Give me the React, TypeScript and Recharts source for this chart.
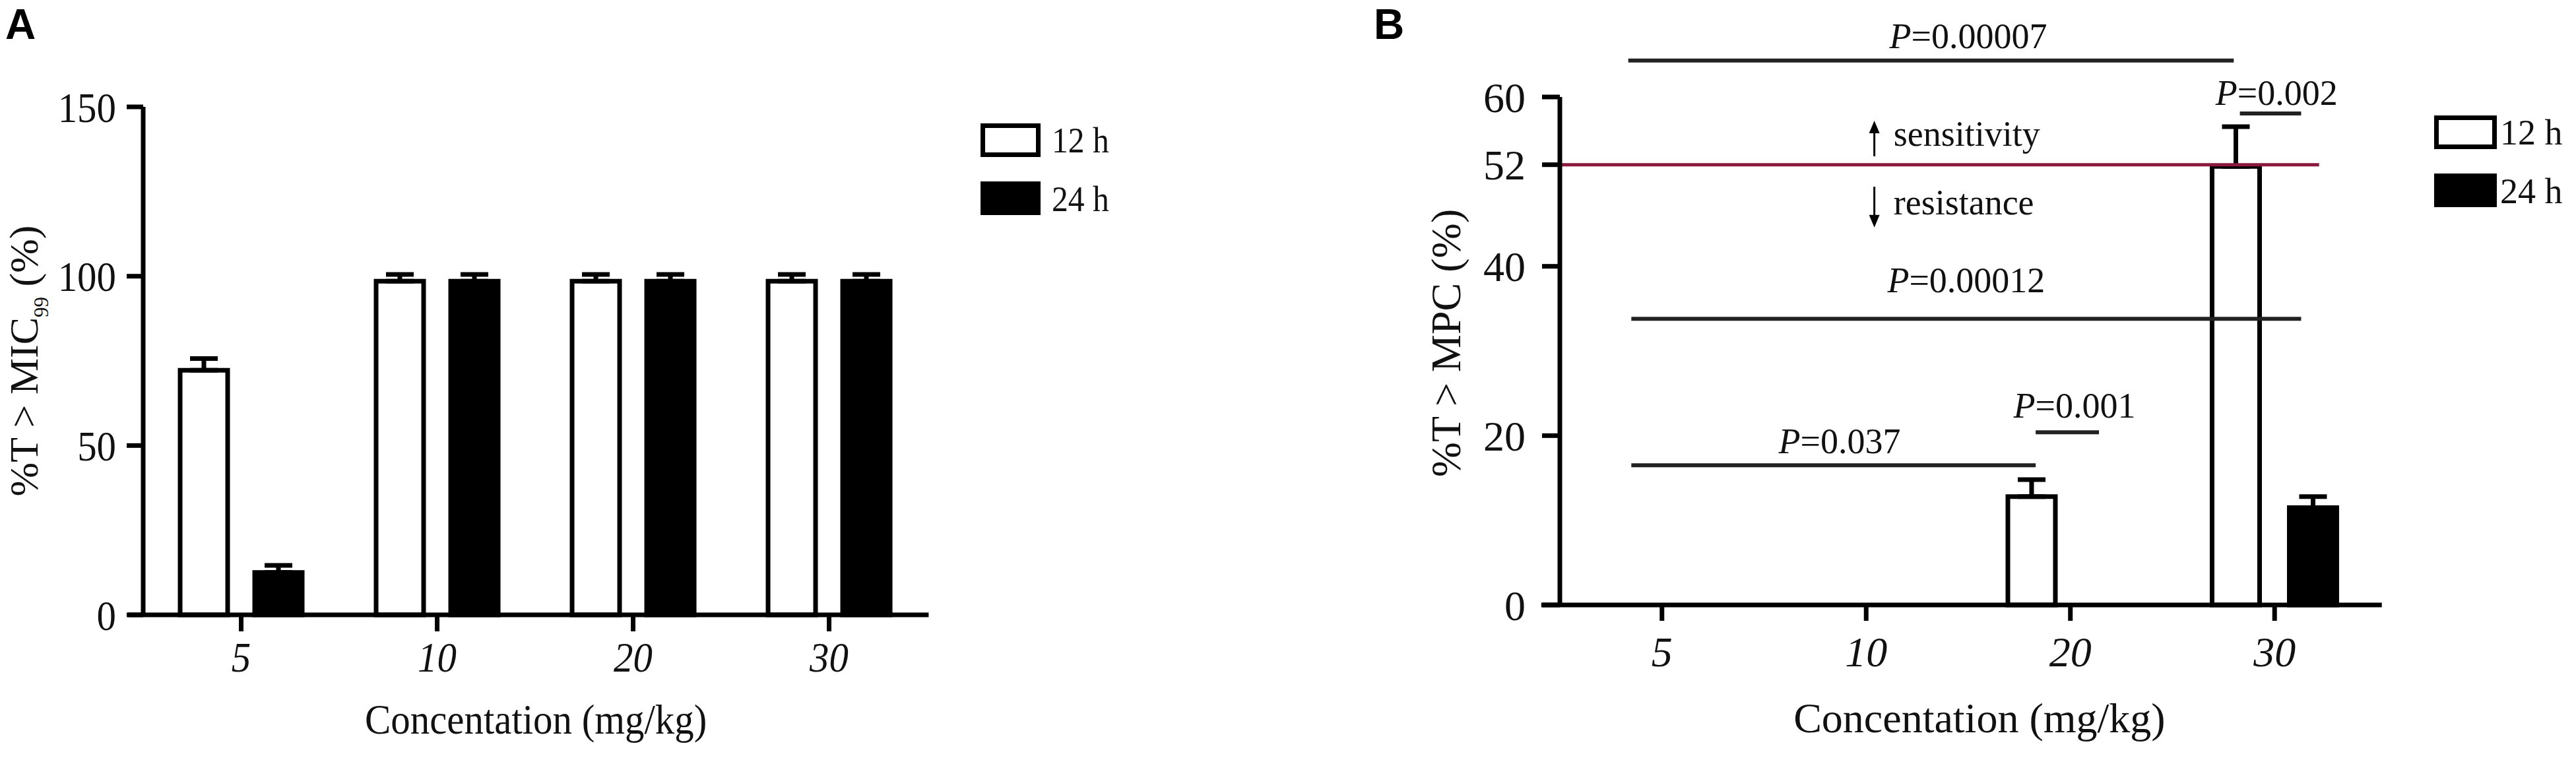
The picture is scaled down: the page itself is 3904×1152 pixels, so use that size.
import React from 'react';
import { ComposedChart, Bar, XAxis, YAxis, ErrorBar, ReferenceLine, ReferenceDot, Legend } from 'recharts';

const SERIF = '"Liberation Serif", "Times New Roman", serif';
const SANS = '"Liberation Sans", Arial, sans-serif';
const INK = '#111';

// ---------- data ----------
const categories = ['5', '10', '20', '30'];
const seriesNames = ['12 h', '24 h'];

// Panel A: %T > MIC99 (%)
const mic12 = [72.2, 98.5, 98.5, 98.5];
const mic12Err = [3.5, 2.0, 2.0, 2.0];
const mic24 = [12.5, 98.5, 98.5, 98.5];
const mic24Err = [2.1, 2.0, 2.0, 2.0];
const micTicks = [0, 50, 100, 150];

// Panel B: %T > MPC (%)
const mpc12 = [0, 0, 12.8, 51.8];
const mpc12Err = [0, 0, 2.0, 4.7];
const mpc24 = [0, 0, 0, 11.5];
const mpc24Err = [0, 0, 0, 1.3];
const mpcTicks = [0, 20, 40, 52, 60];
const mpcCutoff = 52;

// significance brackets (x in category-index units, y in %)
const pBrackets = [
  { p: '0.00007', from: -0.165, to: 2.8, y: 64.3, textX: 1.5, textY: 65.8 },
  { p: '0.002', from: 2.83, to: 3.13, y: 58.05, textX: 3.01, textY: 59.1 },
  { p: '0.00012', from: -0.15, to: 3.13, y: 33.8, textX: 1.49, textY: 36.9 },
  { p: '0.001', from: 1.83, to: 2.14, y: 20.4, textX: 2.02, textY: 22.1 },
  { p: '0.037', from: -0.15, to: 1.83, y: 16.5, textX: 0.87, textY: 17.9 },
];
const zoneNotes = [
  { text: 'sensitivity', arrowX: 1.04, from: 53.0, to: 57.2, textX: 1.134, textY: 54.2 },
  { text: 'resistance', arrowX: 1.04, from: 49.4, to: 44.6, textX: 1.134, textY: 46.1 },
];

// ---------- helpers ----------
function ValueTick(props: any) {
  const { x, y, payload, sx = 1 } = props;
  return (
    <text transform={`translate(${x},${y}) scale(${sx},1)`} textAnchor="end" dy="0.355em"
      fontFamily={SERIF} fontSize={64} fill={INK}>{payload.value}</text>
  );
}

function CatTick(props: any) {
  const { x, y, payload, sx = 1 } = props;
  return (
    <text transform={`translate(${x},${y}) scale(${sx},1)`} textAnchor="middle" dy="0.71em"
      fontFamily={SERIF} fontStyle="italic" fontSize={64} fill={INK}>
      {categories[Math.round(payload.value)]}
    </text>
  );
}

function BoxLegend(props: any) {
  const { payload = [], sx = 1, boxW = 84, textX = 108 } = props;
  return (
    <svg width={240} height={170} style={{ display: 'block', overflow: 'visible' }}>
      {payload.map((entry: any, i: number) => (
        <g key={i}>
          <rect x={3.5} y={3.5 + i * 88} width={boxW} height={44} fill={entry.color} stroke="#000" strokeWidth={7} />
          <text transform={`translate(${textX},${44 + i * 89}) scale(${sx},1)`} fontFamily={SERIF} fontSize={54} fill={INK}>
            {entry.value}
          </text>
        </g>
      ))}
    </svg>
  );
}

const makeXTitle = (sx: number, dyBase: number, dx: number) => (props: any) => {
  const vb = props.viewBox || {};
  const cx = vb.x + vb.width / 2 + dx;
  const cy = vb.y + dyBase;
  return (
    <text transform={`translate(${cx},${cy}) scale(${sx},1)`} textAnchor="middle" fontFamily={SERIF} fontSize={64} fill={INK}>
      Concentation (mg/kg)
    </text>
  );
};

function YTitleA(props: any) {
  const vb = props.viewBox || {};
  const cx = vb.x + 57;
  const cy = vb.y + vb.height / 2;
  return (
    <text transform={`translate(${cx},${cy}) rotate(-90)`} textAnchor="middle" fontFamily={SERIF} fontSize={62} fill={INK}>
      %T &gt; MIC<tspan fontSize={31} dy={16}>99</tspan><tspan dy={-16}> (%)</tspan>
    </text>
  );
}

function YTitleB(props: any) {
  const vb = props.viewBox || {};
  const cx = vb.x + 261;
  const cy = vb.y + vb.height / 2 - 12;
  return (
    <text transform={`translate(${cx},${cy}) rotate(-90)`} textAnchor="middle" fontFamily={SERIF} fontSize={64} fill={INK}>
      %T &gt; MPC (%)
    </text>
  );
}

function ArrowShape(props: any) {
  const { x1, y1, x2, y2 } = props;
  const dir = Math.sign(y2 - y1) || 1;
  return (
    <g>
      <line x1={x1} y1={y1} x2={x2} y2={y2 - dir * 14} stroke="#000" strokeWidth={3} />
      <polygon points={`${x2 - 8},${y2 - dir * 19} ${x2 + 8},${y2 - dir * 19} ${x2},${y2}`} fill="#000" />
    </g>
  );
}

const axisStroke = { stroke: '#000', strokeWidth: 7 };

// ---------- panels ----------
function PanelA() {
  const table = categories.map((c, i) => ({
    x: i, cat: c,
    h12: mic12[i], h12e: [0, mic12Err[i]],
    h24: mic24[i], h24e: [0, mic24Err[i]],
  }));
  return (
    <ComposedChart width={1952} height={1152} data={table}
      margin={{ top: 162, right: 544.6, bottom: 120, left: 0 }} barGap={41}>
      <XAxis type="number" dataKey="x" domain={[-0.5, 3.508]} ticks={[0, 1, 2, 3]} tickCount={4} interval={0}
        axisLine={false} tickLine={axisStroke} tickSize={25} tickMargin={16} height={100}
        tick={<CatTick sx={0.92} />} label={makeXTitle(0.92, 180, 0)} />
      <YAxis type="number" domain={[0, 150]} ticks={micTicks} interval={0} width={217}
        axisLine={axisStroke} tickLine={axisStroke} tickSize={25} tickMargin={16}
        tick={<ValueTick sx={0.92} />} label={YTitleA} />
      <Bar dataKey="h12" name={seriesNames[0]} fill="#fff" stroke="#000" strokeWidth={7} barSize={72} isAnimationActive={false}>
        <ErrorBar dataKey="h12e" direction="y" width={21} strokeWidth={7} stroke="#000" isAnimationActive={false} />
      </Bar>
      <Bar dataKey="h24" name={seriesNames[1]} fill="#000" stroke="#000" strokeWidth={7} barSize={72} isAnimationActive={false}>
        <ErrorBar dataKey="h24e" direction="y" width={21} strokeWidth={7} stroke="#000" isAnimationActive={false} />
      </Bar>
      <ReferenceLine segment={[{ x: -0.576, y: 0 }, { x: 3.508, y: 0 }]} stroke="#000" strokeWidth={7} ifOverflow="visible" />
      <Legend layout="vertical" align="center" verticalAlign="middle"
        wrapperStyle={{ left: 1486, top: 187, width: 240, height: 170 }}
        content={<BoxLegend sx={0.92} boxW={84} textX={108} />} />
    </ComposedChart>
  );
}

function PanelB() {
  const table = categories.map((c, i) => ({
    x: i, cat: c,
    h12: mpc12[i], h12e: [0, mpc12Err[i]],
    h24: mpc24[i], h24e: [0, mpc24Err[i]],
  }));
  return (
    <ComposedChart width={1952} height={1152} data={table}
      margin={{ top: 147, right: 294.3, bottom: 135, left: 0 }} barGap={45}>
      <XAxis type="number" dataKey="x" domain={[-0.5, 3.525]} ticks={[0, 1, 2, 3]} tickCount={4} interval={0}
        axisLine={false} tickLine={axisStroke} tickSize={24} tickMargin={24} height={100}
        tick={<CatTick sx={1} />} label={makeXTitle(1, 193, 13)} />
      <YAxis type="number" domain={[0, 60]} ticks={mpcTicks} interval={0} width={412}
        axisLine={axisStroke} tickLine={axisStroke} tickSize={27} tickMargin={25}
        tick={<ValueTick sx={1} />} label={YTitleB} />
      <Bar dataKey="h12" name={seriesNames[0]} fill="#fff" stroke="#000" strokeWidth={7} barSize={72} isAnimationActive={false}>
        <ErrorBar dataKey="h12e" direction="y" width={21} strokeWidth={7} stroke="#000" isAnimationActive={false} />
      </Bar>
      <Bar dataKey="h24" name={seriesNames[1]} fill="#000" stroke="#000" strokeWidth={7} barSize={72} isAnimationActive={false}>
        <ErrorBar dataKey="h24e" direction="y" width={21} strokeWidth={7} stroke="#000" isAnimationActive={false} />
      </Bar>
      <ReferenceLine segment={[{ x: -0.591, y: 0 }, { x: 3.525, y: 0 }]} stroke="#000" strokeWidth={7} ifOverflow="visible" />
      <ReferenceLine segment={[{ x: -0.5, y: mpcCutoff }, { x: 3.218, y: mpcCutoff }]} stroke="#8b1a3c" strokeWidth={5} ifOverflow="visible" />
      {pBrackets.map((b) => (
        <ReferenceLine key={'br' + b.p} segment={[{ x: b.from, y: b.y }, { x: b.to, y: b.y }]}
          stroke="#222" strokeWidth={6} ifOverflow="visible" />
      ))}
      {pBrackets.map((b) => (
        <ReferenceDot key={'pt' + b.p} x={b.textX} y={b.textY} r={0} ifOverflow="visible"
          shape={(p: any) => (
            <text x={p.cx} y={p.cy} textAnchor="middle" fontFamily={SERIF} fontSize={54} fill={INK}>
              <tspan fontStyle="italic">P</tspan>={b.p}
            </text>
          )} />
      ))}
      {zoneNotes.map((z) => (
        <ReferenceLine key={'ar' + z.text} segment={[{ x: z.arrowX, y: z.from }, { x: z.arrowX, y: z.to }]}
          ifOverflow="visible" shape={ArrowShape} />
      ))}
      {zoneNotes.map((z) => (
        <ReferenceDot key={'zt' + z.text} x={z.textX} y={z.textY} r={0} ifOverflow="visible"
          shape={(p: any) => (
            <text x={p.cx} y={p.cy} textAnchor="start" fontFamily={SERIF} fontSize={54} fill={INK}>{z.text}</text>
          )} />
      ))}
      <Legend layout="vertical" align="center" verticalAlign="middle"
        wrapperStyle={{ left: 1737, top: 175, width: 215, height: 170 }}
        content={<BoxLegend sx={1} boxW={88} textX={100} />} />
    </ComposedChart>
  );
}

export default function App() {
  return (
    <div style={{ position: 'absolute', left: 0, top: 0, width: 3904, height: 1152, background: '#fff', overflow: 'hidden' }}>
      <div style={{ position: 'absolute', left: 0, top: 0 }}><PanelA /></div>
      <div style={{ position: 'absolute', left: 1952, top: 0 }}><PanelB /></div>
      <svg width={3904} height={1152} style={{ position: 'absolute', left: 0, top: 0, pointerEvents: 'none' }}>
        <text x={8} y={59} fontFamily={SANS} fontWeight="bold" fontSize={64} fill="#000">A</text>
        <text x={2082} y={59} fontFamily={SANS} fontWeight="bold" fontSize={64} fill="#000">B</text>
      </svg>
    </div>
  );
}
